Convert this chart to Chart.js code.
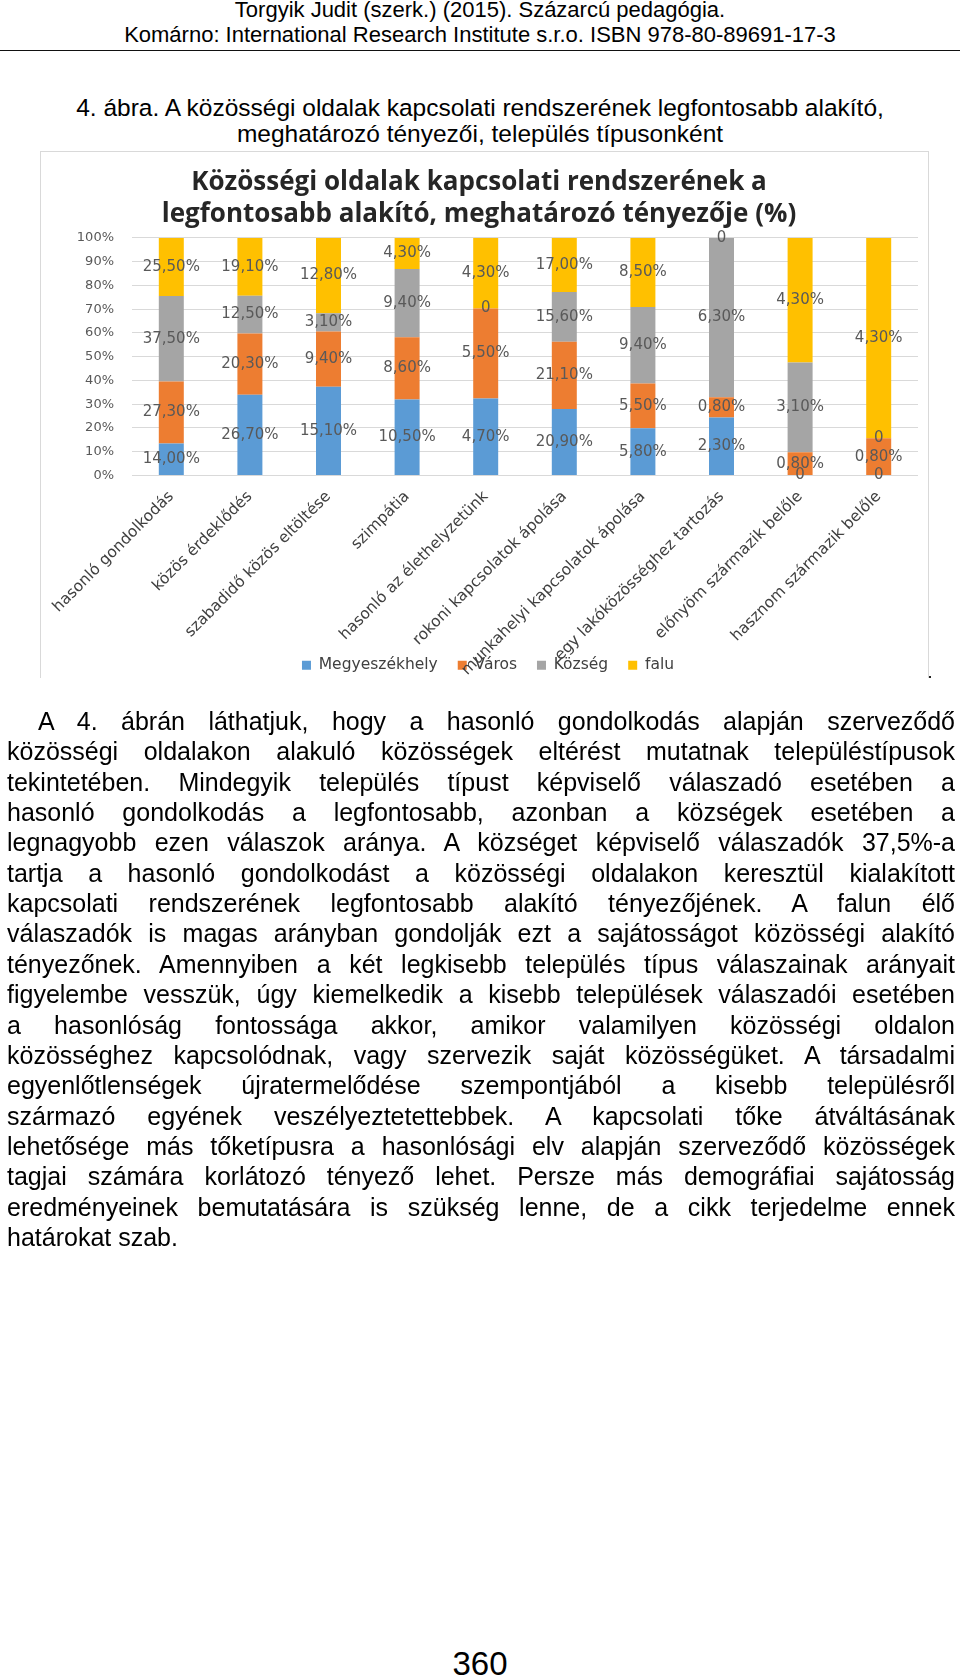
<!DOCTYPE html>
<html lang="hu">
<head>
<meta charset="utf-8">
<title>4. ábra</title>
<script src="https://cdn.jsdelivr.net/npm/chart.js@4.4.0/dist/chart.umd.min.js"></script>
<style>
  html, body { margin: 0; padding: 0; background: #fff; }
  body { position: relative; width: 960px; height: 1680px; overflow: hidden; font-family: "Liberation Sans", Arial, sans-serif; color: #000; }
  .center { position: absolute; left: 0; width: 960px; text-align: center; white-space: nowrap; }
  .hdr { font-size: 22px; line-height: 26px; }
  .cap { font-size: 24.5px; line-height: 28px; }
  #rule { position: absolute; left: 0; top: 50px; width: 960px; height: 0; border-top: 1.5px solid #111; }
  #chartBox { position: absolute; left: 40px; top: 151px; width: 887px; height: 526px; border: 1px solid #d9d9d9; border-bottom: none; }
  #dot { position: absolute; left: 929px; top: 676px; width: 2px; height: 2px; background: #222; }
  #chart { position: absolute; left: 40px; top: 151px; }
  .line { position: absolute; left: 7px; width: 948px; font-size: 25px; line-height: 30px; white-space: nowrap; text-align: justify; text-align-last: justify; }
  .line.first { padding-left: 31px; width: 917px; }
  .line.last { text-align-last: left; }
  #pageNo { font-size: 33px; line-height: 36px; }
</style>
</head>
<body>
<div class="center hdr" style="top:-3px">Torgyik Judit (szerk.) (2015). Százarcú pedagógia.</div>
<div class="center hdr" style="top:22px">Komárno: International Research Institute s.r.o. ISBN 978-80-89691-17-3</div>
<div id="rule"></div>
<div class="center cap" style="top:94px">4. ábra. A közösségi oldalak kapcsolati rendszerének legfontosabb alakító,</div>
<div class="center cap" style="top:120px">meghatározó tényezői, település típusonként</div>

<div id="chartBox"></div>
<canvas id="chart" width="888" height="570"></canvas>
<div id="dot"></div>

<div id="text"></div>
<div class="center" id="pageNo" style="top:1646px">360</div>

<script>
// categories and per-settlement-type values (as printed on the bars, %)
const categories = [
  'hasonló gondolkodás', 'közös érdeklődés', 'szabadidő közös eltöltése', 'szimpátia',
  'hasonló az élethelyzetünk', 'rokoni kapcsolatok ápolása', 'munkahelyi kapcsolatok ápolása',
  'egy lakóközösséghez tartozás', 'előnyöm származik belőle', 'hasznom származik belőle'
];
const megyeszekhely = [14.0, 26.7, 15.1, 10.5, 4.7, 20.9, 5.8, 2.3, 0, 0];
const varos         = [27.3, 20.3, 9.4, 8.6, 5.5, 21.1, 5.5, 0.8, 0.8, 0.8];
const kozseg        = [37.5, 12.5, 3.1, 9.4, 0, 15.6, 9.4, 6.3, 3.1, 0];
const falu          = [25.5, 19.1, 12.8, 4.3, 4.3, 17.0, 8.5, 0, 4.3, 4.3];
const seriesNames   = ['Megyeszékhely', 'Város', 'Község', 'falu'];
const seriesColors  = ['#5B9BD5', '#ED7D31', '#A5A5A5', '#FFC000'];

const bodyLines = [
  'A 4. ábrán láthatjuk, hogy a hasonló gondolkodás alapján szerveződő',
  'közösségi oldalakon alakuló közösségek eltérést mutatnak településtípusok',
  'tekintetében. Mindegyik település típust képviselő válaszadó esetében a',
  'hasonló gondolkodás a legfontosabb, azonban a községek esetében a',
  'legnagyobb ezen válaszok aránya. A községet képviselő válaszadók 37,5%-a',
  'tartja a hasonló gondolkodást a közösségi oldalakon keresztül kialakított',
  'kapcsolati rendszerének legfontosabb alakító tényezőjének. A falun élő',
  'válaszadók is magas arányban gondolják ezt a sajátosságot közösségi alakító',
  'tényezőnek. Amennyiben a két legkisebb település típus válaszainak arányait',
  'figyelembe vesszük, úgy kiemelkedik a kisebb települések válaszadói esetében',
  'a hasonlóság fontossága akkor, amikor valamilyen közösségi oldalon',
  'közösséghez kapcsolódnak, vagy szervezik saját közösségüket. A társadalmi',
  'egyenlőtlenségek újratermelődése szempontjából a kisebb településről',
  'származó egyének veszélyeztetettebbek. A kapcsolati tőke átváltásának',
  'lehetősége más tőketípusra a hasonlósági elv alapján szerveződő közösségek',
  'tagjai számára korlátozó tényező lehet. Persze más demográfiai sajátosság',
  'eredményeinek bemutatására is szükség lenne, de a cikk terjedelme ennek',
  'határokat szab.'
];

const textBox = document.getElementById('text');
bodyLines.forEach((t, i) => {
  const d = document.createElement('div');
  d.className = 'line' + (i === 0 ? ' first' : '') + (i === bodyLines.length - 1 ? ' last' : '');
  d.style.top = (706 + i * 30.35) + 'px';
  d.textContent = t;
  textBox.appendChild(d);
});

// 100% stacked: each bar shows the shares of the four values
const rawSeries = [megyeszekhely, varos, kozseg, falu];
const totals = categories.map((_, j) => rawSeries.reduce((s, arr) => s + arr[j], 0));

function pctLabel(v) {
  return v === 0 ? '0' : v.toFixed(2).replace('.', ',') + '%';
}

const valueLabels = {
  id: 'valueLabels',
  afterDatasetsDraw(chart) {
    const ctx = chart.ctx;
    ctx.save();
    ctx.font = '15px "DejaVu Sans"';
    ctx.fillStyle = '#595959';
    ctx.textAlign = 'center';
    ctx.textBaseline = 'middle';
    chart.data.datasets.forEach((ds, i) => {
      chart.getDatasetMeta(i).data.forEach((bar, j) => {
        ctx.fillText(pctLabel(rawSeries[i][j]), bar.x, (bar.y + bar.base) / 2);
      });
    });
    ctx.restore();
  }
};

// the long rotated labels run under the legend in the original, so pull the legend up over them
const legendShift = {
  id: 'legendShift',
  afterLayout(chart) {
    const lg = chart.legend;
    lg.top -= 38; lg.bottom -= 38;
    lg.left += 9; lg.right += 9;
  }
};

Chart.defaults.font.family = '"DejaVu Sans", sans-serif';

new Chart(document.getElementById('chart'), {
  type: 'bar',
  data: {
    labels: categories,
    datasets: rawSeries.map((arr, i) => ({
      label: seriesNames[i],
      data: arr.map((v, j) => v / totals[j] * 100),
      backgroundColor: seriesColors[i],
      borderWidth: 0,
      barPercentage: 0.318,
      categoryPercentage: 1
    }))
  },
  options: {
    responsive: false,
    animation: false,
    devicePixelRatio: 1,
    layout: { padding: { left: 0, right: 10, top: 0, bottom: 0 } },
    plugins: {
      tooltip: { enabled: false },
      title: {
        display: true,
        text: ['Közösségi oldalak kapcsolati rendszerének a', 'legfontosabb alakító, meghatározó tényezője (%)'],
        color: '#262626',
        font: { family: '"Open Sans", sans-serif', size: 26, weight: 'bold', lineHeight: 1.23 },
        padding: { top: 16, bottom: 7 }
      },
      legend: {
        position: 'bottom',
        labels: {
          boxWidth: 9, boxHeight: 9, padding: 20,
          color: '#404040',
          font: { size: 15.5 }
        }
      }
    },
    scales: {
      x: {
        stacked: true,
        grid: { display: false },
        border: { display: false },
        ticks: { autoSkip: false, maxRotation: 45, minRotation: 45, padding: 4, color: '#404040', font: { size: 15.5 } },
        afterFit(scale) { scale.height = 200; }
      },
      y: {
        stacked: true,
        min: 0, max: 100,
        grid: { color: '#d9d9d9', drawTicks: false },
        border: { display: false },
        ticks: { stepSize: 10, padding: 18, color: '#595959', font: { size: 13 }, callback: v => v + '%' },
        afterFit(scale) { scale.width = 92; }
      }
    }
  },
  plugins: [valueLabels, legendShift]
});
</script>
</body>
</html>
